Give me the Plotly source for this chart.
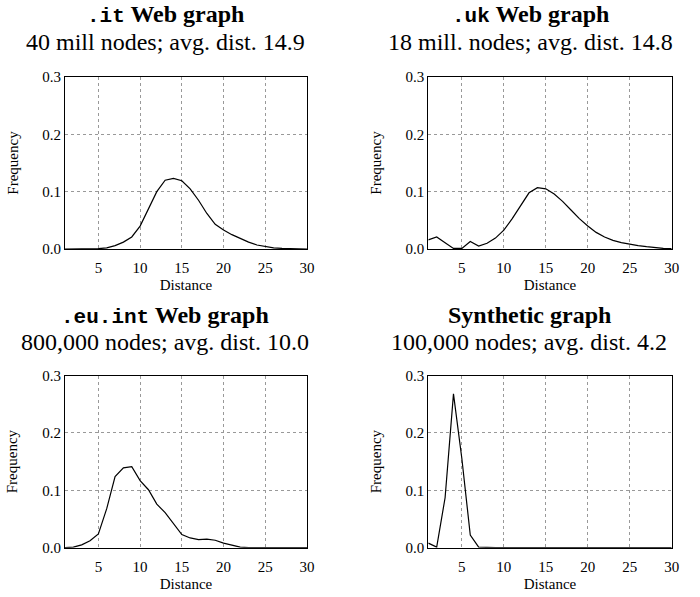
import plotly.graph_objects as go

distance = list(range(1, 31))

it_freq = [0.0, 0.0, 0.0, 0.0, 0.0005, 0.002, 0.006, 0.012, 0.021, 0.040,
           0.070, 0.100, 0.120, 0.123, 0.119, 0.105, 0.085, 0.062, 0.043, 0.033,
           0.025, 0.018, 0.012, 0.007, 0.004, 0.002, 0.001, 0.0005, 0.0002, 0.0]

uk_freq = [0.016, 0.021, 0.011, 0.001, 0.001, 0.013, 0.005, 0.010, 0.019, 0.033,
           0.053, 0.076, 0.098, 0.107, 0.105, 0.096, 0.083, 0.068, 0.053, 0.040,
           0.029, 0.021, 0.015, 0.011, 0.008, 0.006, 0.004, 0.002, 0.001, 0.0005]

eu_freq = [0.0, 0.001, 0.005, 0.012, 0.024, 0.068, 0.124, 0.139, 0.141, 0.117,
           0.101, 0.076, 0.061, 0.042, 0.023, 0.017, 0.014, 0.015, 0.013, 0.008,
           0.004, 0.001, 0.0, 0.0, 0.0, 0.0, 0.0, 0.0, 0.0, 0.0]

syn_freq = [0.008, 0.001, 0.087, 0.268, 0.155, 0.022, 0.001, 0.0, 0.0, 0.0,
            0.0, 0.0, 0.0, 0.0, 0.0, 0.0, 0.0, 0.0, 0.0, 0.0,
            0.0, 0.0, 0.0, 0.0, 0.0, 0.0, 0.0, 0.0, 0.0, 0.0]

MONO = "font-family:\"Liberation Mono\", \"Courier New\", monospace;font-size:21px"
titles = [
    f"<span style='{MONO}'><b>.it</b></span><b> Web graph</b>",
    f"<span style='{MONO}'><b>.uk</b></span><b> Web graph</b>",
    f"<span style='{MONO}'><b>.eu.int</b></span><b> Web graph</b>",
    "<b>Synthetic graph</b>",
]
subtitles = [
    "40 mill nodes; avg. dist. 14.9",
    "18 mill. nodes; avg. dist. 14.8",
    "800,000 nodes; avg. dist. 10.0",
    "100,000 nodes; avg. dist. 4.2",
]
series = [it_freq, uk_freq, eu_freq, syn_freq]

x_ticks = [5, 10, 15, 20, 25, 30]
y_ticks = [0.0, 0.1, 0.2, 0.3]
y_ticklabels = ["0.0", "0.1", "0.2", "0.3"]

W, H = 700, 597
FONT = "Liberation Serif, Times New Roman, serif"

# pixel layout of the four plot areas: (x0, x1, ytop, ybottom)
areas = [
    (65, 307, 77, 249),
    (428.3, 671.7, 77, 249),
    (65, 307, 375.5, 547.7),
    (428.3, 671.7, 375.5, 547.7),
]
title_pos = [(165, 15, 42), (530, 15, 42), (165, 315, 342), (529, 315, 342)]

fig = go.Figure()
layout = dict(
    width=W, height=H,
    margin=dict(l=0, r=0, t=0, b=0, autoexpand=False),
    paper_bgcolor="white", plot_bgcolor="white",
    showlegend=False,
    font=dict(family=FONT, color="black", size=15),
)
annotations = []
for i, (ys, area) in enumerate(zip(series, areas)):
    n = "" if i == 0 else str(i + 1)
    fig.add_trace(go.Scatter(
        x=distance, y=ys, mode="lines",
        line=dict(color="black", width=1.2),
        xaxis="x" + n, yaxis="y" + n, hoverinfo="skip",
    ))
    x0, x1, yt, yb = area
    layout["xaxis" + n] = dict(
        domain=[x0 / W, x1 / W], anchor="y" + n, automargin=False,
        range=[1, 30], tickvals=x_ticks, ticks="", ticklabelstandoff=5,
        showgrid=True, gridcolor="#999999", griddash="dot", gridwidth=0.8,
        showline=True, linecolor="black", linewidth=1, mirror=True,
        zeroline=False, tickfont=dict(size=15, family=FONT),
        title=dict(text="Distance", font=dict(size=15, family=FONT), standoff=4),
    )
    layout["yaxis" + n] = dict(
        domain=[1 - yb / H, 1 - yt / H], anchor="x" + n, automargin=False,
        range=[0, 0.3], tickvals=y_ticks, ticktext=y_ticklabels, ticks="",
        showgrid=True, gridcolor="#999999", griddash="dot", gridwidth=0.8,
        showline=True, linecolor="black", linewidth=1, mirror=True,
        zeroline=False, tickfont=dict(size=15, family=FONT),
        title=dict(text="Frequency", font=dict(size=15, family=FONT), standoff=20),
    )
    tx, ty1, ty2 = title_pos[i]
    annotations.append(dict(
        text=titles[i], x=tx / W, y=1 - ty1 / H, xref="paper", yref="paper",
        xanchor="center", yanchor="middle", showarrow=False,
        font=dict(size=24, family=FONT, color="black"),
    ))
    annotations.append(dict(
        text=subtitles[i], x=tx / W, y=1 - ty2 / H, xref="paper", yref="paper",
        xanchor="center", yanchor="middle", showarrow=False,
        font=dict(size=24, family=FONT, color="black"),
    ))
layout["annotations"] = annotations
fig.update_layout(**layout)
fig.write_html("out.html")
